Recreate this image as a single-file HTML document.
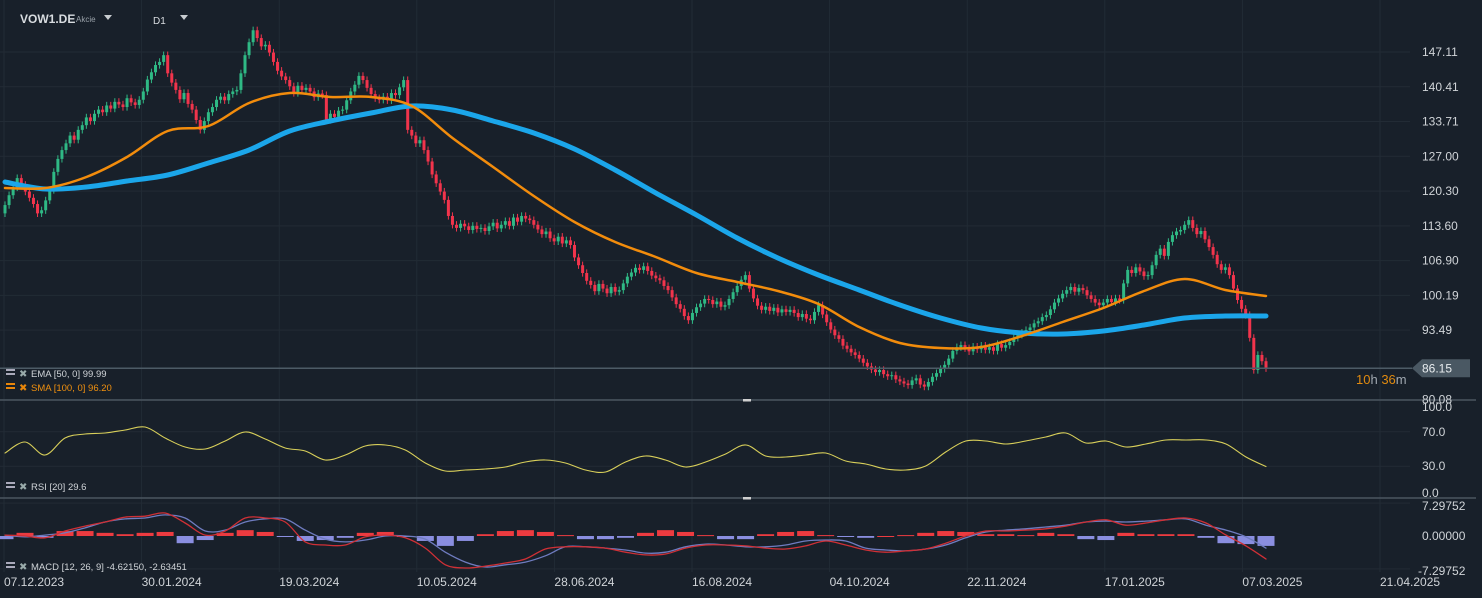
<!DOCTYPE html>
<html><head><meta charset="utf-8">
<style>
html,body{margin:0;padding:0;background:#18202a;width:1482px;height:598px;overflow:hidden;font-family:"Liberation Sans",sans-serif}
svg{position:absolute;left:0;top:0}
</style></head>
<body>
<svg id="chart" width="1482" height="598" xmlns="http://www.w3.org/2000/svg" font-family="Liberation Sans, sans-serif">
<rect x="0" y="0" width="1482" height="598" fill="#18202a"/>
<g id="grid"></g>
<g id="candles"></g>
<g id="lines"></g>
<g id="rsi"></g>
<g id="macd"></g>
<g id="axes"></g>
<g>
<text x="20" y="23" fill="#d8dce0" font-size="12" font-weight="bold">VOW1.DE</text>
<text x="76" y="22" fill="#9aa2aa" font-size="8">Akcie</text>
<path d="M104,15 L112,15 L108,20 Z" fill="#c8ccd0"/>
<text x="153" y="24" fill="#d8dce0" font-size="10">D1</text>
<path d="M180,15 L188,15 L184,20 Z" fill="#c8ccd0"/>
</g>
<g font-size="9.5">
<g><rect x="6" y="369" width="9" height="2" fill="#aab"/><rect x="6" y="373" width="9" height="2" fill="#aab"/><text x="19" y="377" fill="#9aa" font-size="10">✖</text><text x="31" y="377" fill="#d0d4d8">EMA [50, 0] 99.99</text></g>
<g><rect x="6" y="383" width="9" height="2" fill="#e8860a"/><rect x="6" y="387" width="9" height="2" fill="#e8860a"/><text x="19" y="391" fill="#e8860a" font-size="10">✖</text><text x="31" y="391" fill="#f0900f">SMA [100, 0] 96.20</text></g>
<g><rect x="6" y="482" width="9" height="2" fill="#aab"/><rect x="6" y="486" width="9" height="2" fill="#aab"/><text x="19" y="490" fill="#9aa" font-size="10">✖</text><text x="31" y="490" fill="#d0d4d8">RSI [20] 29.6</text></g>
<g><rect x="6" y="562" width="9" height="2" fill="#aab"/><rect x="6" y="566" width="9" height="2" fill="#aab"/><text x="19" y="570" fill="#9aa" font-size="10">✖</text><text x="31" y="570" fill="#d0d4d8">MACD [12, 26, 9] -4.62150, -2.63451</text></g>
</g>
</svg>
<script>
// ---- data ----
const closes = [117.6,119.5,121.0,122.8, 121.5,120.2,119.0,117.8,116.0,116.6, 118.5,120.5, 124.0,126.5,128.2, 129.5,131.0,130.2,132.1,
133.0,134.5,133.8,135.2,136.0, 135.5,136.8,136.2,137.5,137.0, 136.5,138.2,137.4,136.9,137.9, 139.5,141.8,143.2,144.6, 145.2,146.5,
143.0,141.2,139.8, 138.0,139.2,137.1,136.0, 134.0,132.1, 133.8,135.5,136.5,137.9, 138.5,137.8,139.0,139.5,139.8, 143.0,146.5, 149.0,151.3,
149.8,148.2,148.5, 147.0,145.2,143.5,142.4,141.7, 140.5,139.2,140.6,139.8, 140.2,139.5,138.4,139.1,138.8, 134.0, 135.2,134.6,135.8,136.0,
137.8,139.5,140.8,142.5,141.7, 140.2,139.0,138.2,137.9, 138.5,137.8,139.2,138.8, 140.3,141.7, 132.1, 131.0,129.5,130.1,128.2,
126.0,123.5,121.8,120.2,118.6, 115.5,113.8, 113.2,114.0,113.5,112.8,113.6,113.0,113.2, 112.6,113.5,114.2,113.1,113.8,
114.5,113.6,115.2,114.4,115.5,115.0,114.7, 113.8,112.9,112.0,112.5,111.2, 110.6,111.5,110.2,110.8,109.9, 107.5,106.0,104.5,103.0,102.2,
101.0,102.4,101.5,100.6,101.8,100.9,101.2, 102.5,103.8,104.6,105.5,105.1, 105.8,104.9,104.0,103.5,103.1, 102.0,101.2,99.8,98.5,97.6,96.2,95.4,
96.8,97.9,98.6,99.5,99.3, 98.5,99.0,98.0,98.3, 99.5,100.8,102.0,103.2,104.1, 101.5,99.6,98.2,97.4, 98.0,97.2,97.8,96.9,97.5,97.0,97.4,
96.8,96.0,96.6,95.7,95.4, 97.0,98.3, 96.5,95.0,93.6,92.5, 91.8,90.5,89.9,89.2,88.7, 88.0,87.2,86.5,85.9,85.4, 85.8,85.0,84.6,84.8,
84.0,83.6,83.2,82.9, 83.8,84.2,83.0,82.6,83.5, 84.5,85.2,86.0,86.8, 88.0,89.5,90.2,90.6, 90.0,89.4,90.3,89.8,90.5,89.7,
90.2,89.5,90.8,90.1,90.6, 91.2,92.0,92.6,93.0,93.5, 94.0,94.8,95.2,96.0,96.4, 97.5,98.8,99.6,100.5,101.2, 101.8,100.9,101.6,101.2,
100.2,99.5,98.8,98.3, 98.8,99.5,98.9,99.6,99.3, 102.5,105.1, 104.5,105.6,104.8,103.9,104.1, 106.0,108.0, 109.2,107.8,110.5,111.8,
112.5,112.8, 113.8,114.7, 113.2,112.0,112.6,111.0, 109.5,108.0,106.2,105.1, 105.6,104.1, 101.5,99.3, 97.6,96.4, 92.0,85.8, 88.7,87.5,86.15];
const firstOpen = 116.0;
const emaVals = [120.89,120.89,123.01,126.87,131.88,132.84,137.28,139.21,138.43,138.43,136.70,130.53,124.94,119.35,114.34,110.48,107.59,104.50,102.77,101.03,98.53,94.09,91.01,90.04,90.24,92.36,95.06,97.76,101.03,103.35,101.23,100.07];
const smaVals = [122.05,120.70,121.08,122.24,123.40,125.71,128.22,131.88,133.81,135.35,136.70,135.93,133.81,131.49,128.41,124.36,119.93,115.69,111.25,107.40,104.12,101.23,98.33,95.83,93.90,92.94,92.74,93.32,94.48,95.83,96.21,96.21];
const rsiVals = [45.3,58.1,43.0,62.8,67.4,68.6,72.1,75.6,62.8,52.3,50.0,59.3,69.8,61.6,51.2,47.7,37.2,43.0,53.5,54.7,48.8,33.7,24.4,25.6,26.7,29.1,34.9,37.2,33.7,25.6,23.3,34.9,41.9,37.2,29.1,34.9,44.2,54.7,41.9,40.7,43.0,45.3,36.0,32.6,26.7,25.6,30.2,46.5,59.3,59.3,55.8,59.3,64.0,68.6,57.0,59.3,52.3,55.8,60.5,60.5,60.5,55.8,40.7,29.6];
const macdVals = [0.2,0,-0.4,1.1,2.2,3.1,4.2,4.4,5.1,2.9,0.2,1.1,4.0,4.0,3.1,-1.3,-2.0,-2.0,-0.2,0.2,-0.4,-2.7,-6.4,-7.1,-6.7,-6.0,-5.1,-2.9,-2.4,-2.4,-2.7,-3.6,-4.2,-4.0,-2.7,-2.0,-2.0,-2.2,-2.7,-2.9,-2.2,-1.1,-2.0,-3.1,-3.6,-3.3,-2.9,-1.6,0,1.1,1.1,1.3,1.6,2.2,3.1,3.6,2.4,2.9,3.6,4.0,2.9,0.2,-2.2,-5.1];
const signalVals = [0.2,-0.2,0.2,0.7,1.8,3.1,3.8,4.0,4.7,4.0,1.1,1.3,3.1,3.8,3.8,1.3,-0.7,-1.3,-0.9,0,0,-0.7,-3.6,-5.8,-6.9,-6.4,-5.8,-4.4,-2.4,-2.4,-2.7,-3.1,-3.8,-3.6,-2.4,-1.8,-2.0,-2.4,-2.4,-2.0,-1.1,-0.9,-1.1,-2.7,-3.1,-3.3,-2.9,-2.0,-0.4,0.9,1.3,1.6,2.0,2.4,3.1,3.3,3.1,3.3,3.6,3.8,2.4,1.3,-0.2,-2.7];
const histVals = [-0.7,0.7,-0.4,1.1,1.1,0.7,0.4,0.7,0.9,-1.6,-0.9,0.7,1.3,0.9,-0.2,-1.1,-0.9,-0.4,0.7,0.9,-0.2,-1.1,-2.2,-1.1,0.4,1.1,1.3,0.9,0.2,-0.7,-0.7,-0.4,0.7,1.3,0.9,0.2,-0.7,-0.7,0.4,0.9,1.1,0.2,-0.2,-0.4,0,0.2,0.7,1.1,0.9,0.4,0.4,0.2,0.7,0.4,-0.7,-0.9,0.7,0.4,0.4,0.4,-0.4,-1.6,-1.8,-2.2];
const priceTicks = [147.11,140.41,133.71,127.00,120.30,113.60,106.90,100.19,93.49,80.08];
const rsiTicks = [100.0,70.0,30.0,0.0];
const macdTicks = [7.29752,0.00000,-7.29752];
const dateLabels = ["07.12.2023","30.01.2024","19.03.2024","10.05.2024","28.06.2024","16.08.2024","04.10.2024","22.11.2024","17.01.2025","07.03.2025","21.04.2025"];
const lastPrice = 86.15;

// ---- scales ----
const NS = "http://www.w3.org/2000/svg";
const X0 = 5, X1 = 1266;
const xIdx = (i, n) => X0 + (X1 - X0) * i / (n - 1);
const yPrice = p => 52 + (147.11 - p) * 5.187;
const yRsi = v => 492 - v * 0.86;
const yMacd = v => 536 - v * 4.5;
function mk(tag, attrs, parent) { const e = document.createElementNS(NS, tag); for (const k in attrs) e.setAttribute(k, attrs[k]); parent.appendChild(e); return e; }
const grid = document.getElementById('grid'), axes = document.getElementById('axes');

// grid
priceTicks.forEach(t => { mk('line', {x1:0, x2:1410, y1:yPrice(t), y2:yPrice(t), stroke:'#222b35', 'stroke-width':1}, grid); });
[70,30].forEach(t => { mk('line', {x1:0, x2:1410, y1:yRsi(t), y2:yRsi(t), stroke:'#222b35'}, grid); });
[7.29752,-7.29752].forEach(t => { mk('line', {x1:0, x2:1410, y1:yMacd(t), y2:yMacd(t), stroke:'#222b35'}, grid); });
dateLabels.forEach((d, i) => { const x = 4 + i * 137.6; mk('line', {x1:x, x2:x, y1:0, y2:572, stroke:'#222b35'}, grid); });

// candles
const cg = document.getElementById('candles');
closes.forEach((c, i) => {
  const o = i === 0 ? firstOpen : closes[i - 1];
  const up = c >= o;
  const col = up ? '#2fb985' : '#f2344c';
  const x = xIdx(i, closes.length);
  const hi = Math.max(o, c) + 0.7, lo = Math.min(o, c) - 0.7;
  const g = mk('g', {}, cg);
  
  
  mk('line', {x1:x, x2:x, y1:yPrice(hi), y2:yPrice(lo), stroke:col, 'stroke-width':1}, g);
  const yt = yPrice(Math.max(o, c)), yb = yPrice(Math.min(o, c));
  mk('rect', {x:x - 1.5, y:yt, width:3, height:Math.max(1, yb - yt), fill:col}, g);
});

// smooth lines (Catmull-Rom through data points)
function poly(vals, yf, parent, attrs, name) {
  const P = vals.map((v, i) => [xIdx(i, vals.length), yf(v)]);
  let d = 'M' + P[0][0].toFixed(1) + ',' + P[0][1].toFixed(1);
  for (let i = 0; i < P.length - 1; i++) {
    const p0 = P[Math.max(0, i - 1)], p1 = P[i], p2 = P[i + 1], p3 = P[Math.min(P.length - 1, i + 2)];
    const c1 = [p1[0] + (p2[0] - p0[0]) / 6, p1[1] + (p2[1] - p0[1]) / 6];
    const c2 = [p2[0] - (p3[0] - p1[0]) / 6, p2[1] - (p3[1] - p1[1]) / 6];
    d += ' C' + c1[0].toFixed(1) + ',' + c1[1].toFixed(1) + ' ' + c2[0].toFixed(1) + ',' + c2[1].toFixed(1) + ' ' + p2[0].toFixed(1) + ',' + p2[1].toFixed(1);
  }
  const p = mk('path', Object.assign({d:d, fill:'none', 'stroke-linejoin':'round', 'stroke-linecap':'round'}, attrs), parent);
  
  
  return p;
}
const lg = document.getElementById('lines');
poly(smaVals, yPrice, lg, {stroke:'#1ba6ea', 'stroke-width':5}, 'sma-100-line');
poly(emaVals, yPrice, lg, {stroke:'#f28c0c', 'stroke-width':2.5}, 'ema-50-line');

// RSI
const rg = document.getElementById('rsi');
poly(rsiVals, yRsi, rg, {stroke:'#d8cf5a', 'stroke-width':1.1}, 'rsi-line');

// MACD
const mg = document.getElementById('macd');
histVals.forEach((v, i) => {
  const x = xIdx(i, histVals.length);
  const y0 = yMacd(0), y1 = yMacd(v);
  const r = mk('rect', {x:x - 8.5, y:Math.min(y0, y1), width:17, height:Math.max(1, Math.abs(y1 - y0)), fill: v >= 0 ? '#ec3b40' : '#8a8ee0'}, mg);
  
  
});
poly(signalVals, yMacd, mg, {stroke:'#6f7cc0', 'stroke-width':1.3}, 'macd-signal-line');
poly(macdVals, yMacd, mg, {stroke:'#d03036', 'stroke-width':1.3}, 'macd-line');

// separators
[400, 498].forEach(y => { mk('line', {x1:0, x2:1476, y1:y, y2:y, stroke:'#4a5560', 'stroke-width':1.5}, axes); });
mk('rect', {x:743, y:399, width:8, height:2.5, fill:'#d0d0d0'}, axes);
mk('rect', {x:743, y:497, width:8, height:2.5, fill:'#d0d0d0'}, axes);

// labels
priceTicks.forEach(t => { const e = mk('text', {x:1422, y:yPrice(t) + 4, fill:'#d0d4d8', 'font-size':12}, axes); e.textContent = t.toFixed(2); });
rsiTicks.forEach(t => { const y = t === 100 ? 411 : t === 0 ? 497 : yRsi(t) + 4; const e = mk('text', {x:1422, y:y, fill:'#d0d4d8', 'font-size':12}, axes); e.textContent = t.toFixed(1); });
macdTicks.forEach(t => { const y = t > 0 ? 510 : t < 0 ? 575 : yMacd(t) + 4; const e = mk('text', {x: t < 0 ? 1418 : 1422, y:y, fill:'#d0d4d8', 'font-size':12}, axes); e.textContent = t.toFixed(5); });
dateLabels.forEach((d, i) => { const e = mk('text', {x:4 + i * 137.6, y:586, fill:'#d0d4d8', 'font-size':12}, axes); e.textContent = d; });

// current price
const yl = yPrice(lastPrice);
mk('line', {x1:0, x2:1412, y1:yl, y2:yl, stroke:'#4d5b66', 'stroke-width':1.5}, axes);
const tag = mk('path', {d:`M1412,${yl} L1422,${yl - 9} L1470,${yl - 9} L1470,${yl + 9} L1422,${yl + 9} Z`, fill:'#4a5863'}, axes);


const lt = mk('text', {x:1422, y:yl + 4.5, fill:'#e8ecef', 'font-size':12}, axes); lt.textContent = lastPrice.toFixed(2);
const cd = mk('text', {x:1356, y:yl + 16, 'font-size':13}, axes);


cd.innerHTML = '<tspan fill="#e08a10">10</tspan><tspan fill="#a0a8b0">h </tspan><tspan fill="#e08a10">36</tspan><tspan fill="#a0a8b0">m</tspan>';
</script>
</body></html>
